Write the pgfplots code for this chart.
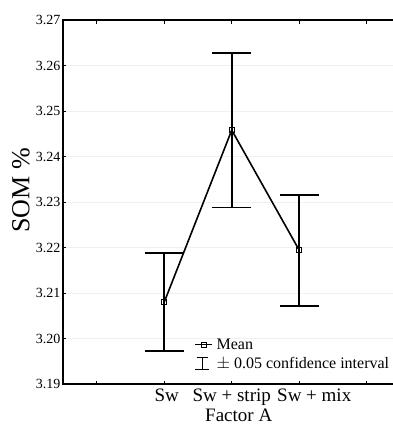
\documentclass[border=0pt]{standalone}
\usepackage{pgfplots}
\pgfplotsset{compat=1.18}
\usepackage{pgfplotstable}
\usepackage{fontspec}
\setmainfont{Liberation Serif}
\pgfplotstableread{
x y e
1 3.2080 0.0108
2 3.2458 0.0170
3 3.2194 0.0122
}\means
\begin{document}
\begin{tikzpicture}
\begin{axis}[
  scale only axis,
  width=337.5pt, height=364pt,
  at={(0,0)}, anchor=south west,
  xmin=-0.5, xmax=4.5,
  ymin=3.19, ymax=3.27,
  xtick={0,1,2,3,4},
  xticklabels={,\hspace*{5pt}Sw,Sw + strip,\hspace*{30pt}Sw + mix,},
  ytick={3.19,3.20,...,3.27},
  yticklabel style={/pgf/number format/fixed, /pgf/number format/fixed zerofill, /pgf/number format/precision=2},
  /pgf/number format/assume math mode=true,
  tick align=inside,
  major tick length=3.5pt,
  tick style={black, line width=1pt},
  axis line style={line width=1.6pt},
  ymajorgrids, grid style={black!6, line width=0.6pt},
  x tick label style={font=\fontsize{19}{22}\selectfont, yshift=-1pt},
  y tick label style={font=\fontsize{14}{16}\selectfont, xshift=1pt},
  xlabel={Factor A},
  ylabel={SOM \%},
  xlabel style={font=\fontsize{19}{22}\selectfont, yshift=3pt, xshift=7pt},
  ylabel style={font=\fontsize{26}{29}\selectfont, at={(axis description cs:-0.1244,0.5316)}, anchor=center, inner sep=0pt},
  legend style={draw=none, fill=none, at={(axis description cs:0.386,0.03)}, anchor=south west,
    font=\fontsize{16}{19}\selectfont, row sep=2.5pt, inner sep=1pt,
    nodes={inner xsep=3.5pt}},
  legend cell align=left,
]
\addplot[black, line width=1.6pt, mark=square, mark options={fill=white, line width=0.9pt, mark size=2.4pt},
  error bars/.cd, y dir=both, y explicit,
  error bar style={line width=1.6pt},
  error mark options={rotate=90, mark size=19.5pt, line width=1.6pt}]
  table[x=x, y=y, y error=e] {\means};
\addlegendentry{Mean}
\addlegendimage{legend image code/.code={
  \draw[black, line width=1.3pt] (0.05cm,0.2cm) -- (0.45cm,0.2cm);
  \draw[black, line width=1.3pt] (0.25cm,0.2cm) -- (0.25cm,-0.2cm);
  \draw[black, line width=1.3pt] (0cm,-0.2cm) -- (0.5cm,-0.2cm);
}}
\addlegendentry{$\pm$ 0.05 confidence interval}
\end{axis}
\pgfresetboundingbox
\useasboundingbox (-63pt,-48pt) rectangle (330pt,384pt);
\end{tikzpicture}
\end{document}
